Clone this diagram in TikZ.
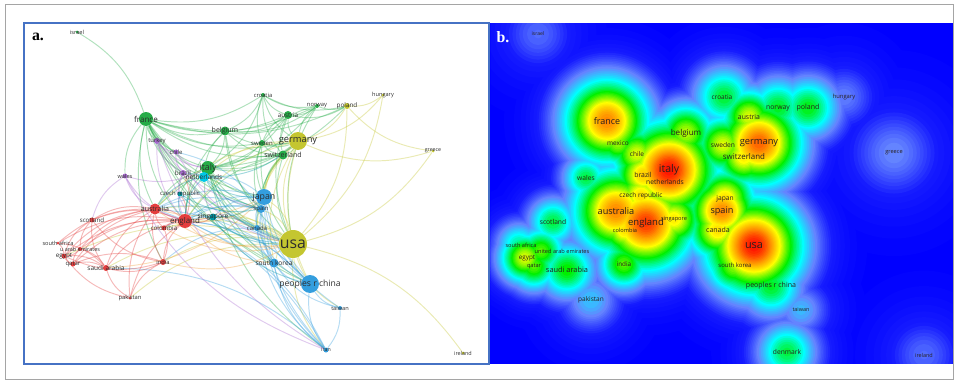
\documentclass[tikz,border=0pt]{standalone}
\usepackage{fontspec}
\setmainfont{Open Sans}
\newfontfamily\panelfont{Liberation Serif}
\usetikzlibrary{calc}
\pgfdeclarelayer{links}
\pgfsetlayers{links,main}

\definecolor{cred}{RGB}{228,62,62}
\definecolor{cgreen}{RGB}{38,172,72}
\definecolor{cyel}{RGB}{196,198,48}
\definecolor{cblue}{RGB}{52,158,222}
\definecolor{cteal}{RGB}{0,150,165}
\definecolor{ccyan}{RGB}{0,200,232}
\definecolor{cpurp}{RGB}{168,108,208}
\definecolor{corange}{RGB}{240,160,60}
\definecolor{labgray}{RGB}{45,45,45}
\definecolor{heattext}{RGB}{40,32,30}
\definecolor{frameblue}{RGB}{70,114,196}
\definecolor{outgray}{RGB}{165,165,165}
% density colour stops
\definecolor{hb0}{RGB}{0,0,255}
\definecolor{hb1}{RGB}{22,28,255}
\definecolor{hb2}{RGB}{100,132,255}
\definecolor{hb3}{RGB}{0,255,255}
\definecolor{hb4}{RGB}{0,240,0}
\definecolor{hb5}{RGB}{255,255,0}
\definecolor{hb6}{RGB}{255,150,0}
\definecolor{hb7}{RGB}{255,25,0}

% name / x / y / cluster / radius / label / size  (panel a, pixels)
\def\countrylist{%
  isr/77/32/cgreen/1.5/israel/3.2,
  fra/146/119/cgreen/7/france/4.6,
  tur/157/141/cpurp/3/turkey/3.4,
  chl/176/152/cpurp/2.5/chile/3.4,
  bel/225/131/cgreen/4.5/belgium/4,
  ita/208/168/cgreen/7/italy/5,
  bra/183/173/cpurp/3/brazil/3.6,
  net/204/177/ccyan/5/netherlands/3.7,
  wal/125/176/cpurp/2.5/wales/3.2,
  cze/180/194/cteal/2.5/{czech republic}/3.4,
  cro/263/95/cgreen/2/croatia/3.3,
  aut/288/115/cgreen/4/austria/3.6,
  nor/317/106/cgreen/2/norway/3.3,
  pol/347/106/cyel/3/poland/3.6,
  hun/383/95/cyel/1.5/hungary/3.2,
  ger/298/141/cyel/9/germany/5.3,
  swe/262/143/cgreen/3/sweden/3.4,
  swi/283/155/cgreen/4.5/switzerland/4,
  gre/433/151/cyel/1.5/greece/3,
  jap/264/197/cblue/8/japan/5,
  spa/261/209/cblue/4/spain/3.4,
  can/257/228/cblue/3/canada/3.4,
  usa/293/244/cyel/14/usa/9,
  kor/274/263/cblue/4.5/{south korea}/3.8,
  prc/310/284/cblue/9/{peoples r china}/4.9,
  tai/340/308/cblue/2/taiwan/3.2,
  irn/326/350/cblue/2.5/iran/3,
  ire/463/353/cyel/1.5/ireland/3.1,
  aus/155/209/cred/5.5/australia/4,
  eng/185/221/cred/7/england/4.5,
  sin/213/217/cteal/3.5/singapore/3.8,
  col/164/228/cred/2.5/colombia/3.5,
  sco/92/220/cred/2.5/scotland/3.5,
  saf/58/243/cred/1.5/{south africa}/3.2,
  uae/80/249/cred/2/{u arab emirates}/3.1,
  egy/64/256/cred/2.5/egypt/3.6,
  qat/73/264/cred/2.5/qatar/3.4,
  sau/106/268/cred/3/{saudi arabia}/3.7,
  ind/163/262/cred/3/india/3.3,
  pak/130/298/cred/1.5/pakistan/3.3}

% name / label / size / peak / spread / dx / dy  (panel b)
\def\heatlist{%
  isr/israel/2.9/0.18/28/0/0,
  fra/france/5.1/0.85/26/0/0,
  tur/mexico/3.7/0.6/17/0/0,
  chl/chile/3.7/0.65/19/0/0,
  bel/belgium/4.6/0.62/20/0/0,
  ita/italy/6/1.0/28/0/0,
  bra/brazil/3.9/0.75/20/-1/0,
  net/netherlands/3.8/0.8/20/0/3,
  wal/wales/3.8/0.45/17/0/0,
  cze/{czech republic}/3.7/0.72/20/0/0,
  cro/croatia/3.7/0.46/22/-2/0,
  aut/austria/3.9/0.65/19/0/0,
  nor/norway/3.9/0.47/22/0/0,
  pol/poland/4/0.48/22/0/0,
  hun/hungary/3.3/0.2/24/0/0,
  ger/germany/5.3/0.9/26/0/0,
  swe/sweden/3.8/0.65/20/0/0,
  swi/switzerland/4.5/0.7/20/0/0,
  gre/greece/3.2/0.21/33/0/0,
  jap/japan/3.8/0.72/20/0/0,
  spa/spain/5.2/0.85/22/0/0,
  can/canada/4/0.72/20/0/0,
  usa/usa/6.2/1.0/28/0/0,
  kor/{south korea}/3.4/0.6/20/0/0,
  prc/{peoples r china}/4/0.47/22/0/0,
  tai/taiwan/3.1/0.26/20/0/0,
  irn/denmark/3.8/0.45/21/0/0,
  ire/ireland/3.1/0.18/28/0/0,
  aus/australia/5.2/0.85/26/0/0,
  eng/england/5.4/0.95/28/0/0,
  sin/singapore/3.2/0.7/20/0/0,
  col/colombia/3.2/0.72/18/0/0,
  sco/scotland/3.8/0.45/18/0/0,
  saf/{south africa}/3.2/0.4/17/2/0,
  uae/{united arab emirates}/3.2/0.55/17/21/0,
  egy/egypt/3.6/0.65/17/2/0,
  qat/qatar/3.2/0.55/17/0/0,
  sau/{saudi arabia}/4.2/0.5/20/0/0,
  ind/india/3.6/0.55/18/0/0,
  pak/pakistan/3.7/0.27/22/0/0}

\begin{document}
\begin{tikzpicture}[x=0.02cm, y=-0.02cm,
    vnode/.style={circle, fill=#1, inner sep=0pt},
    link/.style={draw=#1, draw opacity=0.36, line width=0.55pt},
    lab/.style={font=\fontsize{#1pt}{#1pt}\selectfont, text=labgray, inner sep=0pt}]

  \useasboundingbox (0,0) rectangle (958,382);
  \draw[outgray, line width=0.4pt] (5,4) rectangle (953,379);

  % a. network
  \foreach \n/\x/\y/\c/\r/\la/\fa in \countrylist
    \node[vnode=\c, minimum size={2*\r*0.02cm}] (\n) at (\x,\y) {};

  \begin{pgfonlayer}{links}
    \foreach \s/\t in {fra/isr, fra/ita, fra/bel, fra/ger, fra/swi, fra/cro, fra/aut, fra/nor, fra/swe, fra/usa,
        fra/spa, fra/eng, fra/jap, fra/aus, fra/net, fra/can, fra/bra, fra/chl, fra/wal, fra/kor, fra/prc, fra/pol,
        fra/ind, fra/tur, ita/bel, ita/ger, ita/swi, ita/aut, ita/cro, ita/swe, ita/nor, ita/pol, ita/usa, ita/spa,
        ita/jap, ita/can, ita/eng, ita/aus, ita/net, ita/cze, ita/prc, ita/irn, ita/sin, ita/kor, bel/ger, bel/swi,
        bel/aut, bel/cro, bel/nor, bel/usa, bel/spa, bel/eng, bel/net, cro/ger, cro/aut, cro/swe, cro/swi, cro/pol,
        cro/nor, aut/ger, aut/nor, aut/pol, aut/swe, aut/swi, aut/usa, nor/ger, nor/swe, nor/pol, nor/usa, swe/ger,
        swe/swi, swe/usa, swe/spa, swe/jap, swi/ger, swi/usa, swi/jap, swi/spa, swi/can, swi/eng, swi/aus}
      \draw[link=cgreen] (\s) to[bend right=20] (\t);
    \foreach \s/\t in {ger/pol, ger/hun, ger/gre, ger/usa, ger/jap, ger/spa, ger/can, ger/prc, ger/eng, ger/aus,
        ger/net, ger/kor, usa/gre, usa/hun, usa/pol, usa/can, usa/jap, usa/prc, usa/kor, usa/spa, usa/eng, usa/aus,
        usa/ind, usa/irn, usa/tai, usa/sin, usa/sau, usa/pak, usa/col, usa/egy, ire/usa, pol/hun, pol/gre}
      \draw[link=cyel] (\s) to[bend right=20] (\t);
    \foreach \s/\t in {jap/prc, jap/kor, jap/spa, jap/can, jap/irn, jap/eng, jap/aus, jap/sin, jap/tai, jap/net,
        spa/can, spa/eng, spa/aus, spa/kor, spa/prc, spa/irn, spa/col, spa/bra, spa/chl, can/kor, can/prc, can/eng,
        can/aus, can/ind, can/irn, kor/prc, kor/irn, kor/tai, kor/eng, prc/tai, prc/irn, prc/eng, prc/aus, prc/sin,
        irn/tai, irn/eng, irn/aus, irn/sau}
      \draw[link=cblue] (\s) to[bend right=20] (\t);
    \foreach \s/\t in {eng/aus, eng/sco, eng/saf, eng/uae, eng/egy, eng/qat, eng/sau, eng/ind, eng/pak, eng/col,
        eng/sin, eng/cze, eng/bra, aus/sco, aus/egy, aus/qat, aus/sau, aus/ind, aus/pak, aus/uae, aus/col, aus/sin,
        aus/saf, sco/sau, sco/egy, sco/uae, sco/ind, sau/egy, sau/qat, sau/uae, sau/ind, sau/pak, sau/saf, egy/qat,
        egy/uae, egy/ind, egy/pak, egy/saf, ind/pak, ind/qat, ind/col, uae/qat}
      \draw[link=cred] (\s) to[bend right=20] (\t);
    \foreach \s/\t in {eng/usa, aus/usa, eng/jap, aus/jap, col/usa, ind/usa, sau/jap, eng/kor}
      \draw[link=corange] (\s) to[bend right=20] (\t);
    \foreach \s/\t in {tur/ita, tur/bra, tur/chl, tur/eng, tur/spa, tur/irn, chl/bra, chl/usa, chl/ita, bra/usa,
        bra/eng, bra/cze, wal/eng, wal/sco, wal/ita, wal/aus, wal/irn}
      \draw[link=cpurp] (\s) to[bend right=20] (\t);
    \foreach \s/\t in {net/usa, net/eng, net/spa, net/jap, net/ger, net/aus, cze/eng, cze/spa, cze/usa, sin/usa,
        sin/prc, sin/eng, sin/jap}
      \draw[link=cteal] (\s) to[bend right=20] (\t);
  \end{pgfonlayer}

  \foreach \n/\x/\y/\c/\r/\la/\fa in \countrylist
    \node[lab=\fa] (\n-t) at (\n) {\la};

  \draw[frameblue, line width=0.8pt] (24,23) rectangle (489,364);
  \node[font=\panelfont\bfseries\fontsize{9pt}{9pt}\selectfont, inner sep=0pt] (tag-a) at (38,37) {a.};

  % b. density (gaussian core with a wider tail)
  \fill[hb0] (490,23) rectangle (953,364);
  \begin{scope}
    \clip (490.5,23.5) rectangle (952.5,363);
    \foreach \ta/\tb/\ca/\cb/\m in {0/0.10/hb0/hb1/7, 0.10/0.20/hb1/hb2/9, 0.20/0.32/hb2/hb3/7,
        0.32/0.48/hb3/hb4/8, 0.48/0.66/hb4/hb5/9, 0.66/0.82/hb5/hb6/8, 0.82/0.98/hb6/hb7/8} {
      \foreach \k in {1,...,\m} {
        \pgfmathsetmacro\lv{\ta+(\tb-\ta)*\k/\m}
        \pgfmathtruncatemacro\pct{100*\k/\m}
        \colorlet{lvl}{\cb!\pct!\ca}
        \foreach \n/\bl/\bs/\p/\s/\dx/\dy in \heatlist {
          \ifdim\p pt>\lv pt
            \pgfmathsetmacro\rr{0.02*\s*sqrt(2*ln(\p/\lv))*(1+0.4*(1-\lv/\p)^2)}
            \fill[lvl] ($(\n)+(461,2)$) circle (\rr cm);
          \fi
        }
      }
    }
  \end{scope}

  \foreach \n/\bl/\bs/\p/\s/\dx/\dy in \heatlist
    \node[lab=\bs, text=heattext] (\n-b) at ($(\n)+(461+\dx,2+\dy)$) {\bl};

  \node[font=\panelfont\bfseries\fontsize{9pt}{9pt}\selectfont, text=white, inner sep=0pt] (tag-b) at (503,37) {b.};

\end{tikzpicture}
\end{document}
